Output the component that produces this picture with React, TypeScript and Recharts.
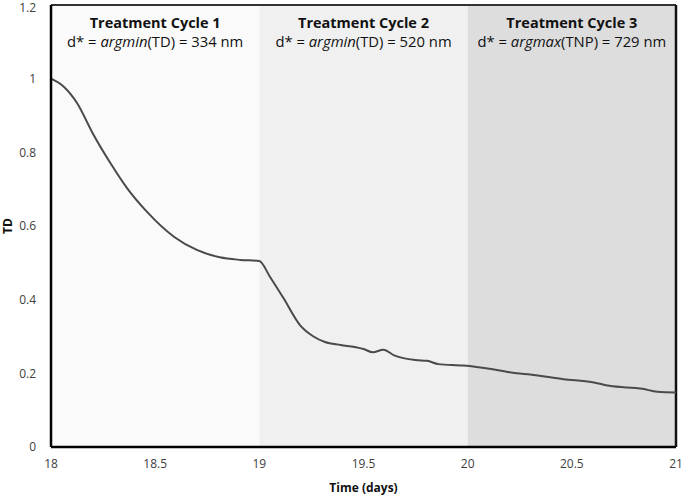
import { LineChart, Line, XAxis, YAxis, ReferenceArea, ReferenceLine } from 'recharts'

const days = [
  18, 18.06, 18.125, 18.2, 18.285, 18.365, 18.46, 18.59, 18.7, 18.81, 18.91, 19.0,
  19.05, 19.115, 19.195, 19.26, 19.315, 19.39, 19.47, 19.5, 19.545, 19.595, 19.65,
  19.75, 19.805, 19.86, 19.98, 20.12, 20.235, 20.3, 20.46, 20.6, 20.68, 20.84, 20.91, 21.0,
]
const td = [
  1.0, 0.979, 0.934, 0.852, 0.771, 0.703, 0.639, 0.571, 0.535, 0.515, 0.508, 0.505,
  0.463, 0.405, 0.331, 0.3, 0.285, 0.277, 0.27, 0.266, 0.257, 0.264, 0.248,
  0.236, 0.234, 0.225, 0.221, 0.211, 0.2, 0.197, 0.184, 0.176, 0.166, 0.158, 0.15, 0.148,
]
const xTicks = [18, 18.5, 19, 19.5, 20, 20.5, 21]
const yTicks = [0, 0.2, 0.4, 0.6, 0.8, 1, 1.2]

const cycleStart = [18, 19, 20]
const cycleEnd = [19, 20, 21]
const cycleFill = ['#fafafa', '#f0f0f0', '#dddddd']
const cycleTitle = ['Treatment Cycle 1', 'Treatment Cycle 2', 'Treatment Cycle 3']
const cycleFn = ['argmin', 'argmin', 'argmax']
const cycleArg = ['TD', 'TD', 'TNP']
const cycleNm = [334, 520, 729]

const data = days.map((d, i) => ({ day: d, td: td[i] }))

const font = '"Open Sans", sans-serif'

function CycleLabel(props: any) {
  const { viewBox, i } = props
  const cx = viewBox.x + viewBox.width / 2
  return (
    <g>
      <text x={cx} y={viewBox.y + 23} textAnchor="middle" fontFamily={font} fontWeight="bold" fontSize={14.5} fill="#111">
        {cycleTitle[i]}
      </text>
      <text x={cx} y={viewBox.y + 42} textAnchor="middle" fontFamily={font} fontSize={14.8} fill="#111">
        d* = <tspan fontStyle="italic">{cycleFn[i]}</tspan>({cycleArg[i]}) = {cycleNm[i]} nm
      </text>
    </g>
  )
}

export default function App() {
  return (
    <div style={{ position: 'absolute', left: 0, top: 0, background: '#fff' }}>
      <LineChart width={685} height={497} data={data} margin={{ top: 5, right: 9, left: 0, bottom: 0 }}>
        {cycleStart.map((s, i) => (
          <ReferenceArea
            key={i}
            x1={s}
            x2={cycleEnd[i]}
            y1={0}
            y2={1.2}
            fill={cycleFill[i]}
            fillOpacity={1}
            stroke="none"
            label={<CycleLabel i={i} />}
          />
        ))}
        <ReferenceLine y={1.2} stroke="#333" strokeWidth={2} />
        <ReferenceLine x={21} stroke="#111" strokeWidth={2.5} />
        <XAxis
          dataKey="day"
          type="number"
          domain={[18, 21]}
          ticks={xTicks}
          height={50}
          tickSize={0}
          tickMargin={12}
          tick={{ fill: '#404040', fontSize: 12, fontFamily: font }}
          axisLine={{ stroke: '#000', strokeWidth: 2.5 }}
          label={(p: any) => (
            <text x={p.viewBox.x + p.viewBox.width / 2} y={p.viewBox.y + 45} textAnchor="middle" fontFamily={font} fontWeight="bold" fontSize={12} fill="#111">
              Time (days)
            </text>
          )}
        />
        <YAxis
          type="number"
          domain={[0, 1.2]}
          ticks={yTicks}
          width={51}
          tickSize={0}
          tickMargin={15}
          tick={{ fill: '#404040', fontSize: 12, fontFamily: font }}
          axisLine={{ stroke: '#000', strokeWidth: 2.5 }}
          label={(p: any) => {
            const x = p.viewBox.x + 12
            const y = p.viewBox.y + p.viewBox.height / 2
            return (
              <text x={x} y={y} transform={`rotate(-90 ${x} ${y})`} textAnchor="middle" fontFamily={font} fontWeight="bold" fontSize={12} fill="#111">
                TD
              </text>
            )
          }}
        />
        <Line
          type="monotone"
          dataKey="td"
          stroke="#4a4a4a"
          strokeWidth={2}
          dot={false}
          activeDot={false}
          isAnimationActive={false}
        />
      </LineChart>
    </div>
  )
}
